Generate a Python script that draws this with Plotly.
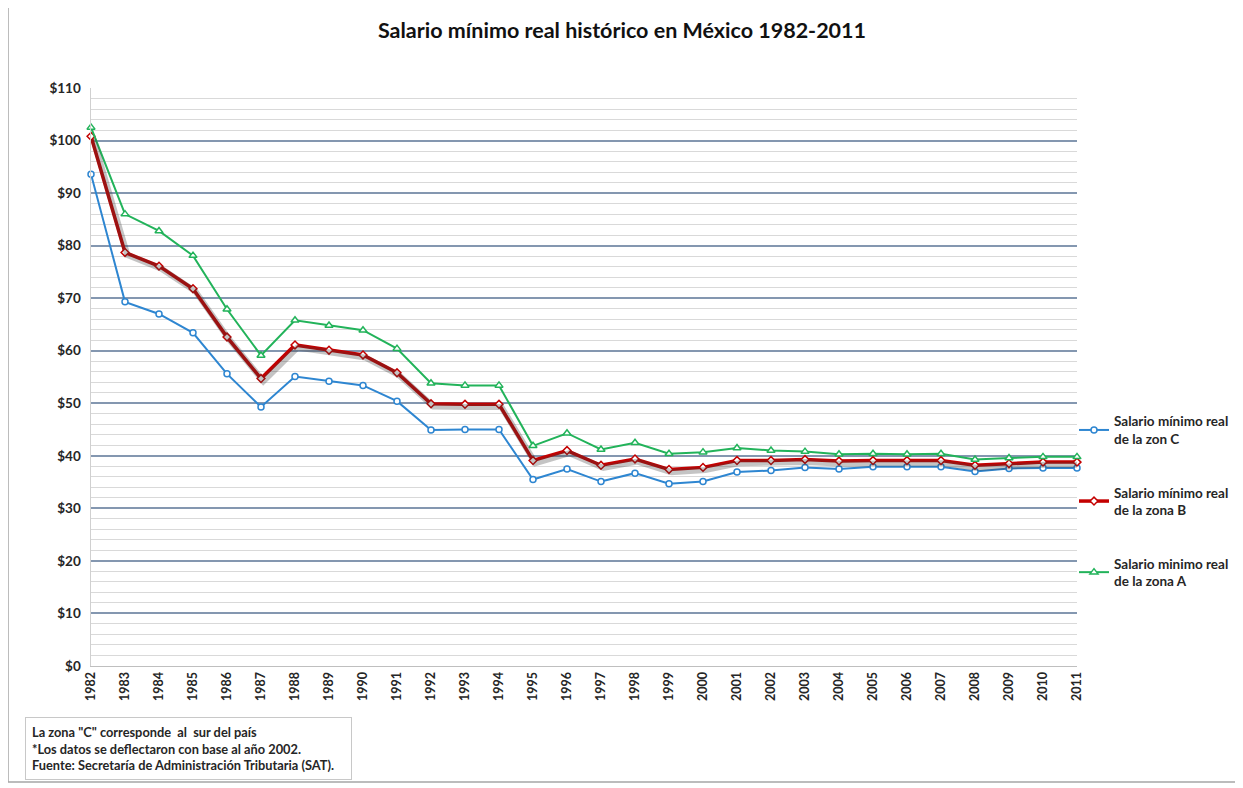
import plotly.graph_objects as go

years = list(range(1982, 2012))
year_labels = [str(y) for y in years]

zona_c = [93.6, 69.3, 67.0, 63.4, 55.6, 49.3, 55.1, 54.2, 53.4, 50.4,
          44.9, 45.0, 45.0, 35.5, 37.5, 35.1, 36.7, 34.7, 35.1, 36.9,
          37.2, 37.8, 37.5, 37.9, 37.9, 37.9, 37.0, 37.6, 37.7, 37.7]
zona_b = [100.8, 78.7, 76.1, 71.8, 62.6, 54.7, 61.1, 60.1, 59.2, 55.8,
          49.9, 49.8, 49.8, 39.1, 41.0, 38.2, 39.4, 37.4, 37.8, 39.1,
          39.1, 39.3, 39.0, 39.1, 39.1, 39.1, 38.2, 38.5, 38.8, 38.8]
zona_a = [102.5, 86.0, 82.8, 78.1, 67.9, 59.1, 65.8, 64.8, 63.9, 60.4,
          53.8, 53.4, 53.4, 41.9, 44.3, 41.2, 42.5, 40.4, 40.7, 41.5,
          41.0, 40.8, 40.3, 40.4, 40.3, 40.4, 39.3, 39.6, 39.8, 39.8]

name_c = "Salario mínimo real<br>de la zon C"
name_b = "Salario mínimo real<br>de la zona B"
name_a = "Salario minimo real<br>de la zona A"

title = "Salario mínimo real histórico en México 1982-2011"
note = ("La zona \"C\" corresponde  al  sur del país<br>"
        "*Los datos se deflectaron con base al año 2002.<br>"
        "Fuente: Secretaría de Administración Tributaria (SAT).")

FONT = "Lato"
BLUE = "#2E86D1"
RED = "#C40000"
GREEN = "#22B35A"
TXT = "#262626"

fig = go.Figure()

# shadow of the red line (same data, on slightly shifted overlay axes)
fig.add_trace(go.Scatter(
    x=years, y=zona_b, mode="lines", xaxis="x2", yaxis="y2",
    line=dict(color="rgba(60,60,60,0.30)", width=6),
    showlegend=False, hoverinfo="skip"))

fig.add_trace(go.Scatter(
    x=years, y=zona_c, name=name_c, mode="lines+markers", legendgroup="c",
    line=dict(color=BLUE, width=2),
    marker=dict(symbol="circle", size=6, color="white",
                line=dict(color=BLUE, width=1.5)),
    cliponaxis=False))
fig.add_trace(go.Scatter(
    x=years, y=zona_b, name=name_b, mode="lines+markers", legendgroup="b",
    line=dict(color=RED, width=3.5),
    marker=dict(symbol="diamond", size=6, color="white",
                line=dict(color=RED, width=1.5)),
    cliponaxis=False))
fig.add_trace(go.Scatter(
    x=years, y=zona_a, name=name_a, mode="lines+markers", legendgroup="a",
    line=dict(color=GREEN, width=2),
    marker=dict(symbol="triangle-up", size=7, color="white",
                line=dict(color=GREEN, width=1.5)),
    cliponaxis=False))

# the page body has an 8px margin, so margins are offset to keep the
# plot area at the reference's pixel position
fig.update_layout(
    width=1243, height=788,
    margin=dict(l=83, r=174, t=80, b=130),
    paper_bgcolor="white", plot_bgcolor="white",
    font=dict(family=FONT, color=TXT),
    title=dict(text=title, x=(622 - 8) / 1243, xanchor="center",
               y=1 - 22 / 788, yanchor="middle",
               font=dict(size=21.5, family=FONT, color="#111111", weight="bold")),
    xaxis=dict(range=[1982, 2011], tickmode="array", tickvals=years,
               ticktext=year_labels,
               tickangle=-90,
               tickfont=dict(size=12.5, family=FONT, color=TXT, weight="bold"),
               showgrid=False, zeroline=False, showline=True,
               linecolor="#BFBFBF", linewidth=1, ticks="", ticklen=0),
    yaxis=dict(range=[0, 110], dtick=10, tickprefix="$",
               tickfont=dict(size=13.5, family=FONT, color=TXT, weight="bold"),
               showgrid=True, gridcolor="#8497B0", gridwidth=1.5,
               minor=dict(dtick=2, showgrid=True, gridcolor="#D9D9D9", gridwidth=1),
               zeroline=False, showline=True, linecolor="#D0D0D0", linewidth=1,
               ticks="", ticksuffix="  "),
    xaxis2=dict(range=[1982 - 0.07, 2011 - 0.07], overlaying="x", visible=False),
    yaxis2=dict(range=[0.5, 110.5], overlaying="y", visible=False),
    legend=dict(x=(1074 - 91) / 986, xanchor="left", y=0.45, yanchor="top",
                tracegroupgap=33, itemwidth=30,
                font=dict(size=13.5, family=FONT, color=TXT, weight="bold"),
                bgcolor="rgba(0,0,0,0)"),
    showlegend=True,
)

fig.add_annotation(
    xref="paper", yref="paper", x=(25 - 91) / 986, y=(666 - 717) / 578,
    xanchor="left", yanchor="top", align="left", showarrow=False,
    text=note, width=313,
    font=dict(size=12.8, family=FONT, color=TXT, weight="bold"),
    bordercolor="#C8C8C8", borderwidth=1, borderpad=6, bgcolor="white")

# outer chart border
fig.add_shape(type="rect", xref="paper", yref="paper",
              x0=(8 - 91) / 986, x1=(1236 - 91) / 986,
              y0=(666 - 782) / 578, y1=(666 - 4) / 578,
              line=dict(color="#A6A6A6", width=1.5), fillcolor="rgba(0,0,0,0)",
              layer="below")

fig.write_html("out.html")
